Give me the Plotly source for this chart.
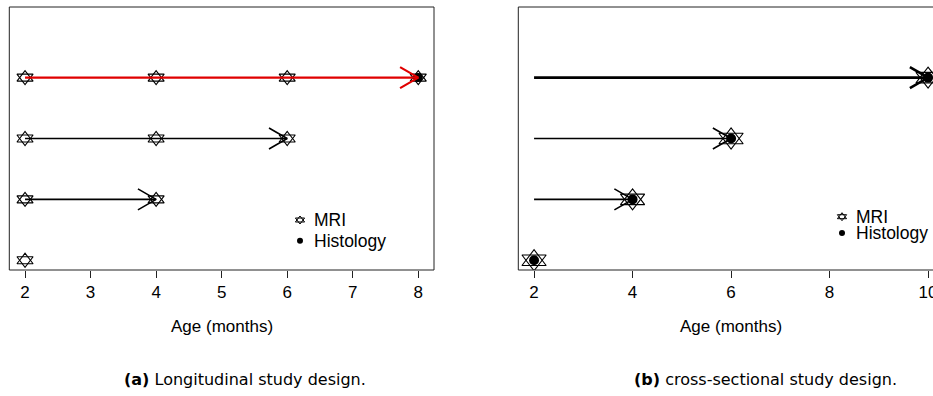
import math
import plotly.graph_objects as go

# ---- data -------------------------------------------------------------
# (a) longitudinal design: every group is scanned repeatedly, histology at the end
long_mri_age = [2, 2, 4, 2, 4, 6, 2, 4, 6, 8]
long_mri_group = [1, 2, 2, 3, 3, 3, 4, 4, 4, 4]
long_hist_age = [8]
long_hist_group = [4]
long_arrow_start = [2, 2, 2]
long_arrow_end = [4, 6, 8]
long_arrow_group = [2, 3, 4]

# (b) cross-sectional design: one scan + histology per group
cross_mri_age = [2, 4, 6, 10]
cross_mri_group = [1, 2, 3, 4]
cross_hist_age = [2, 4, 6, 10]
cross_hist_group = [1, 2, 3, 4]
cross_arrow_start = [2, 2, 2]
cross_arrow_end = [4, 6, 10]
cross_arrow_group = [2, 3, 4]

long_ticks = [2, 3, 4, 5, 6, 7, 8]
cross_ticks = [2, 4, 6, 8, 10]

# ---- layout geometry (pixels) ----------------------------------------
W, H = 933, 396
TOP, BOTTOM = 7, 270
A_LEFT, A_RIGHT = 9.3, 434.0
B_LEFT = 518.3
A_RANGE = [1.76, 8.24]
B_RANGE = [1.68, 10.10]
B_FULL = [1.68, 10.32]
Y_RANGE = [0.84, 5.16]
FONT = "Liberation Sans, Arial, sans-serif"

ydom = [(H - BOTTOM) / H, (H - TOP) / H]
a_dom = [A_LEFT / W, A_RIGHT / W]
b_dom = [B_LEFT / W, 1.0]

px_y = (BOTTOM - TOP) / (Y_RANGE[1] - Y_RANGE[0])
px_a = (A_RIGHT - A_LEFT) / (A_RANGE[1] - A_RANGE[0])
px_b = (W - B_LEFT) / (B_RANGE[1] - B_RANGE[0])

HEAD_LEN, HEAD_ANG = 21, math.radians(30)

fig = go.Figure()


def add_mri(ages, groups, xa, ya, size):
    # star of David: an upward and a downward open triangle superimposed
    for sym in ("triangle-up-open", "triangle-down-open"):
        fig.add_trace(go.Scatter(
            x=ages, y=groups, mode="markers", xaxis=xa, yaxis=ya,
            marker=dict(symbol=sym, size=size, color="black",
                        line=dict(width=1.1, color="black")),
            showlegend=False, hoverinfo="skip"))


def add_hist(ages, groups, xa, ya, size):
    fig.add_trace(go.Scatter(
        x=ages, y=groups, mode="markers", xaxis=xa, yaxis=ya,
        marker=dict(symbol="circle", size=size, color="black"),
        showlegend=False, hoverinfo="skip"))


def add_arrows(x0s, x1s, ys, xa, ya, pxx, colors, widths):
    dx = HEAD_LEN * math.cos(HEAD_ANG) / pxx
    dy = HEAD_LEN * math.sin(HEAD_ANG) / px_y
    for x0, x1, y, c, w in zip(x0s, x1s, ys, colors, widths):
        fig.add_trace(go.Scatter(
            x=[x0, x1, None, x1 - dx, x1, x1 - dx],
            y=[y, y, None, y + dy, y, y - dy],
            mode="lines", xaxis=xa, yaxis=ya,
            line=dict(color=c, width=w),
            showlegend=False, hoverinfo="skip"))


# panel (a)
add_mri(long_mri_age, long_mri_group, "x", "y", 14)
add_hist(long_hist_age, long_hist_group, "x", "y", 9)
add_arrows(long_arrow_start, long_arrow_end, long_arrow_group, "x", "y", px_a,
           ["black", "black", "#e00000"], [1.6, 1.6, 2.2])

# panel (b)
add_mri(cross_mri_age, cross_mri_group, "x2", "y2", 21)
add_hist(cross_hist_age, cross_hist_group, "x2", "y2", 10)
add_arrows(cross_arrow_start, cross_arrow_end, cross_arrow_group, "x2", "y2", px_b,
           ["black", "black", "black"], [1.6, 1.6, 2.6])

# legend keys on a pixel-space overlay axis
legend_keys = [
    # (key x, MRI y, Histology y, text x)
    (300, 220.0, 240.7, 312),
    (842, 216.7, 233.0, 854),
]
for kx, ym, yh, tx in legend_keys:
    for sym in ("triangle-up-open", "triangle-down-open"):
        fig.add_trace(go.Scatter(
            x=[kx], y=[ym], mode="markers", xaxis="x3", yaxis="y3",
            marker=dict(symbol=sym, size=8, color="black",
                        line=dict(width=1, color="black")),
            showlegend=False, hoverinfo="skip"))
    fig.add_trace(go.Scatter(
        x=[kx], y=[yh], mode="markers", xaxis="x3", yaxis="y3",
        marker=dict(symbol="circle", size=6, color="black"),
        showlegend=False, hoverinfo="skip"))

annotations = []
for kx, ym, yh, tx in legend_keys:
    for label, yy in (("MRI", ym), ("Histology", yh)):
        annotations.append(dict(
            x=tx, y=yy, xref="x3", yref="y3", text=label, showarrow=False,
            xanchor="left", yanchor="middle",
            font=dict(family=FONT, size=17.5, color="black")))

# axis titles, centred under each full plotting region
for xr, xc in (("x", sum(A_RANGE) / 2), ("x2", sum(B_FULL) / 2)):
    annotations.append(dict(
        x=xc, y=(H - 326) / H, xref=xr, yref="paper", text="Age (months)",
        showarrow=False, xanchor="center", yanchor="middle",
        font=dict(family=FONT, size=17, color="black")))

# sub-figure captions
CAP_FONT = "DejaVu Sans, sans-serif"
for cx, txt in ((245, "<b>(a)</b> Longitudinal study design."),
                (765, "<b>(b)</b> cross-sectional study design.")):
    annotations.append(dict(
        x=cx / W, y=(H - 379) / H, xref="paper", yref="paper", text=txt,
        showarrow=False, xanchor="center", yanchor="middle",
        font=dict(family=CAP_FONT, size=16, color="black")))

# plot frames (panel b runs past the right edge of the page)
b_right = (B_LEFT + (B_FULL[1] - B_FULL[0]) * px_b) / W
shapes = [
    dict(type="rect", xref="paper", yref="paper", x0=a_dom[0], x1=a_dom[1],
         y0=ydom[0], y1=ydom[1], line=dict(color="#222", width=1)),
    dict(type="rect", xref="paper", yref="paper", x0=b_dom[0], x1=b_right,
         y0=ydom[0], y1=ydom[1], line=dict(color="#222", width=1)),
]

xaxis_common = dict(
    showgrid=False, zeroline=False, showline=False, ticks="outside",
    ticklen=7, tickwidth=1, tickcolor="#222", automargin=False,
    tickfont=dict(family=FONT, size=17, color="black"),
    ticklabeloverflow="allow", fixedrange=True)
yaxis_common = dict(visible=False, range=Y_RANGE, automargin=False, fixedrange=True)

fig.update_layout(
    width=W, height=H, template="none",
    margin=dict(l=0, r=0, t=0, b=0),
    paper_bgcolor="white", plot_bgcolor="rgba(0,0,0,0)",
    xaxis=dict(domain=a_dom, range=A_RANGE, tickvals=long_ticks, anchor="y", **xaxis_common),
    yaxis=dict(domain=ydom, anchor="x", **yaxis_common),
    xaxis2=dict(domain=b_dom, range=B_RANGE, tickvals=cross_ticks, anchor="y2", **xaxis_common),
    yaxis2=dict(domain=ydom, anchor="x2", **yaxis_common),
    xaxis3=dict(domain=[0, 1], range=[0, W], visible=False, anchor="y3", fixedrange=True),
    yaxis3=dict(domain=[0, 1], range=[H, 0], visible=False, anchor="x3", fixedrange=True),
    annotations=annotations, shapes=shapes, showlegend=False,
)

fig.write_html("out.html", config={"displayModeBar": False})
